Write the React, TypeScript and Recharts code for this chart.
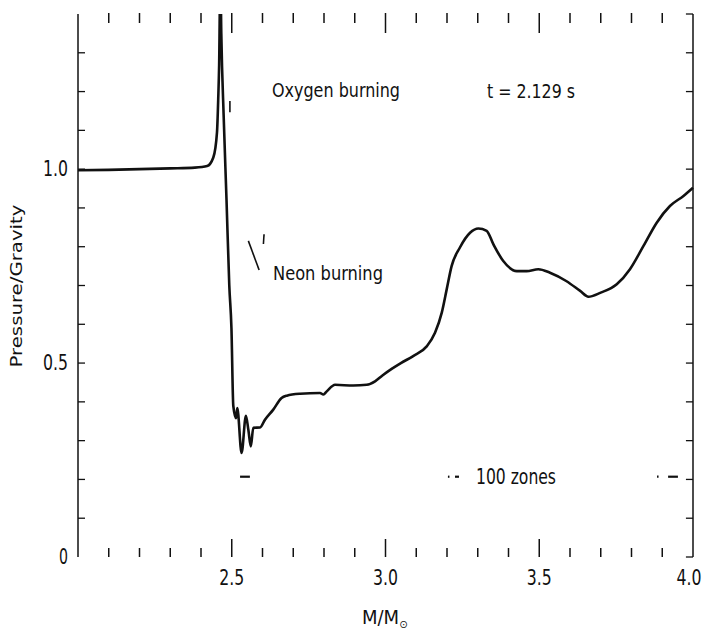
import React from 'react'
import { LineChart, Line, XAxis, YAxis, ReferenceLine } from 'recharts'

// M/M_sun and pressure/gravity
const mass = [
  2.0, 2.1, 2.2, 2.3, 2.38, 2.42, 2.44, 2.452, 2.456, 2.459, 2.463, 2.466, 2.474, 2.483,
  2.492, 2.499, 2.505, 2.514, 2.518, 2.532, 2.546, 2.554, 2.562, 2.57, 2.592, 2.608, 2.635,
  2.662, 2.679, 2.722, 2.787, 2.798, 2.809, 2.836, 2.895, 2.939, 2.966, 2.99, 3.02, 3.05,
  3.09, 3.134, 3.161, 3.183, 3.199, 3.215, 3.242, 3.275, 3.302, 3.329, 3.351, 3.383, 3.427,
  3.459, 3.497, 3.535, 3.589, 3.633, 3.66, 3.698, 3.752, 3.795, 3.839, 3.882, 3.925, 3.969, 4.0
]
const pressure = [
  0.997, 0.998, 1.0, 1.002, 1.004, 1.008, 1.03, 1.095, 1.18, 1.27, 1.5, 1.35, 1.13, 0.92,
  0.7, 0.59, 0.39, 0.358, 0.384, 0.268, 0.364, 0.328, 0.285, 0.333, 0.334, 0.354, 0.38,
  0.41, 0.416, 0.421, 0.423, 0.419, 0.427, 0.444, 0.442, 0.444, 0.453, 0.468, 0.485, 0.5,
  0.518, 0.543, 0.578, 0.63, 0.69, 0.75, 0.798, 0.836, 0.847, 0.841, 0.806, 0.763, 0.737,
  0.737, 0.742, 0.733, 0.711, 0.686, 0.671, 0.681, 0.703, 0.742, 0.802, 0.862, 0.905, 0.931, 0.952
]

const xTicks = [2.0, 2.1, 2.2, 2.3, 2.4, 2.5, 2.6, 2.7, 2.8, 2.9, 3.0, 3.1, 3.2, 3.3, 3.4, 3.5, 3.6, 3.7, 3.8, 3.9, 4.0]
const xMajor = [2.5, 3.0, 3.5]
const xLabels: Record<string, string> = { '2.5': '2.5', '3': '3.0', '3.5': '3.5', '4': '4.0' }
const yTicks = [0, 0.1, 0.2, 0.3, 0.4, 0.5, 0.6, 0.7, 0.8, 0.9, 1.0, 1.1, 1.2, 1.3, 1.4]
const yLabels: Record<string, string> = { '0': '0', '0.5': '0.5', '1': '1.0' }

// "100 zones" arrow pieces and leader marks (data coords)
const zoneY = 0.207
const zoneDashes = [[2.527, 2.559], [3.203, 3.208], [3.226, 3.239], [3.883, 3.888], [3.919, 3.951]]
const leaders = [
  [[2.554, 0.815], [2.589, 0.74]],
  [[2.603, 0.807], [2.605, 0.832]],
  [[2.494, 1.147], [2.494, 1.176]]
]

const data = mass.map((m, i) => ({ m, p: pressure[i] }))

const INK = '#111'
const NARROW = "'Liberation Sans Narrow', 'DejaVu Sans Condensed', 'Liberation Sans', Arial, sans-serif"

const key = (v: number) => String(Math.round(v * 10) / 10)

const BottomTick = ({ x, y, payload }: any) => {
  const v = Math.round(payload.value * 10) / 10
  const major = xMajor.includes(v)
  const label = xLabels[key(v)]
  return (
    <g>
      {v > 2 && v < 4 && (
        <line x1={x} x2={x} y1={y} y2={y - (major ? 18 : 9)} stroke={INK} strokeWidth={1.5} />
      )}
      {label && (
        <text x={v === 4 ? x - 4 : x} y={y + 28} textAnchor="middle" fontSize={21} fontFamily={NARROW}
          fill={INK} textLength={25} lengthAdjust="spacingAndGlyphs">{label}</text>
      )}
    </g>
  )
}

// top axis: y arrives at the plot's top edge
const TopTick = ({ x, y, payload }: any) => {
  const v = Math.round(payload.value * 10) / 10
  if (v <= 2 || v >= 4) return <g />
  const major = xMajor.includes(v)
  return <line x1={x} x2={x} y1={y - 1} y2={y - 1 + (major ? 20 : 10)} stroke={INK} strokeWidth={1.5} />
}

const LeftTick = ({ x, y, payload }: any) => {
  const v = Math.round(payload.value * 10) / 10
  const label = yLabels[key(v)]
  return (
    <g>
      {v > 0 && v < 1.4 && <line x1={x} x2={x + 7} y1={y} y2={y} stroke={INK} strokeWidth={1.3} />}
      {label && (
        <text x={x - 10} y={y + 7} textAnchor="end" fontSize={21} fontFamily={NARROW} fill={INK}
          textLength={label.length > 1 ? 25 : 9} lengthAdjust="spacingAndGlyphs">{label}</text>
      )}
    </g>
  )
}

const txt = { fontFamily: NARROW, fill: INK, lengthAdjust: 'spacingAndGlyphs' as const }

export default function App() {
  return (
    <div style={{ position: 'absolute', left: 0, top: 0, width: 711, height: 634, background: '#fff' }}>
      <LineChart width={711} height={634} data={data} margin={{ top: 12, right: 17, bottom: 0, left: 0 }}>
        <XAxis xAxisId="bottom" dataKey="m" type="number" domain={[2, 4]} ticks={xTicks} interval={0}
          axisLine={false} tickLine={false} tickSize={0} tickMargin={0} height={77} tick={<BottomTick />} />
        <XAxis xAxisId="top" orientation="top" dataKey="m" type="number" domain={[2, 4]} ticks={xTicks}
          interval={0} axisLine={false} tickLine={false} tickSize={0} tickMargin={0} height={2} tick={<TopTick />} />
        <YAxis yAxisId="left" type="number" domain={[0, 1.4]} ticks={yTicks} interval={0} allowDataOverflow
          width={78} tickLine={false} tickSize={0} tickMargin={0} axisLine={{ stroke: INK, strokeWidth: 1.5 }}
          tick={<LeftTick />} />
        <YAxis yAxisId="right" orientation="right" type="number" domain={[0, 1.4]} ticks={yTicks} interval={0}
          width={1} tickLine={false} tick={false} axisLine={{ stroke: INK, strokeWidth: 1.5 }} />
        <Line xAxisId="bottom" yAxisId="left" dataKey="p" type="monotone" stroke={INK} strokeWidth={2.6}
          dot={false} isAnimationActive={false} />
        {/* inward ticks on the right frame */}
        {yTicks.map((v) => (
          <ReferenceLine key={'r' + v} xAxisId="bottom" yAxisId="left" ifOverflow="visible"
            segment={[{ x: 4, y: v }, { x: 3.977, y: v }]} stroke={INK} strokeWidth={1.3} />
        ))}
        {zoneDashes.map((d, i) => (
          <ReferenceLine key={'z' + i} xAxisId="bottom" yAxisId="left" ifOverflow="visible"
            segment={[{ x: d[0], y: zoneY }, { x: d[1], y: zoneY }]} stroke={INK} strokeWidth={2.2} />
        ))}
        {leaders.map((s, i) => (
          <ReferenceLine key={'l' + i} xAxisId="bottom" yAxisId="left" ifOverflow="visible"
            segment={[{ x: s[0][0], y: s[0][1] }, { x: s[1][0], y: s[1][1] }]} stroke={INK} strokeWidth={1.6} />
        ))}
      </LineChart>
      <svg width={711} height={634} style={{ position: 'absolute', left: 0, top: 0, pointerEvents: 'none' }}>
        <text {...txt} x={272} y={97} fontSize={20} textLength={128}>Oxygen burning</text>
        <text {...txt} x={487} y={98} fontSize={20} textLength={88}>t = 2.129 s</text>
        <text {...txt} x={273} y={280} fontSize={20} textLength={110}>Neon burning</text>
        <text {...txt} x={476} y={484} fontSize={21} textLength={80}>100 zones</text>
        <text {...txt} x={362} y={624} fontSize={20}>
          M/M<tspan fontSize={11} dy={4}>⊙</tspan>
        </text>
        <text x={16} y={286} transform="rotate(-90 16 286)" textAnchor="middle" dominantBaseline="central"
          fontFamily="'DejaVu Sans', sans-serif" fontSize={16} fill={INK} textLength={163}
          lengthAdjust="spacingAndGlyphs">Pressure/Gravity</text>
      </svg>
    </div>
  )
}
